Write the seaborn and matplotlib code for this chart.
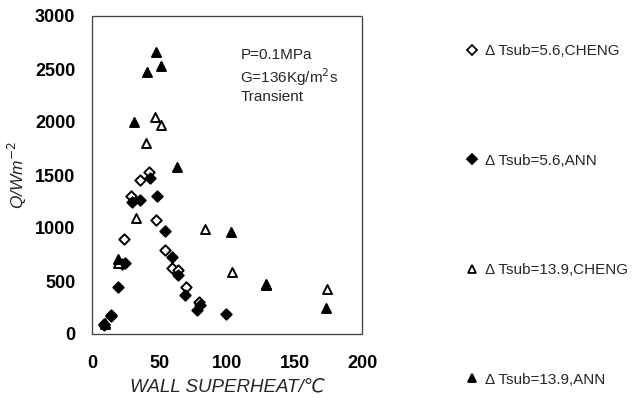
import matplotlib
matplotlib.use("Agg")
import matplotlib.pyplot as plt
import seaborn as sns
import pandas as pd

# Data
cheng56_x = [9, 14, 22, 23.7, 29, 35.3, 42.5, 47.4, 54.3, 59.3, 63.7, 69.6, 79.5]
cheng56_y = [90, 170, 660, 896, 1305, 1450, 1530, 1075, 792, 620, 600, 440, 300]

ann56_x = [9, 14.3, 19.3, 24.7, 29.6, 35.8, 43.2, 48.1, 53.8, 59.3, 63.7, 68.9, 77.5, 80, 99.3]
ann56_y = [85, 180, 440, 670, 1245, 1265, 1470, 1305, 970, 730, 557, 368, 226, 270, 189]

cheng139_x = [9.6, 19.3, 32.6, 40.2, 46.9, 51.3, 83.5, 103.5, 129, 173.8]
cheng139_y = [100, 670, 1095, 1800, 2045, 1970, 990, 587, 470, 420]

ann139_x = [9.6, 19.3, 31, 40.7, 47.4, 51, 63, 103, 129, 173.5]
ann139_y = [95, 707, 2000, 2470, 2660, 2530, 1580, 960, 460, 248]

labels = ["\u0394 Tsub=5.6,CHENG", "\u0394 Tsub=5.6,ANN",
          "\u0394 Tsub=13.9,CHENG", "\u0394 Tsub=13.9,ANN"]
x_ticks = [0, 50, 100, 150, 200]
y_ticks = [0, 500, 1000, 1500, 2000, 2500, 3000]

sns.set_style("white")
plt.rcParams["font.family"] = ["Liberation Sans", "DejaVu Sans"]

fig = plt.figure(figsize=(6.34, 3.98), dpi=100)
W, H = 634, 398
ax = fig.add_axes([92 / W, 1 - 334 / H, (362 - 92) / W, (334 - 16) / H])

series = [
    (cheng56_x, cheng56_y, "D", "white", labels[0], 28),
    (ann56_x, ann56_y, "D", "black", labels[1], 28),
    (cheng139_x, cheng139_y, "^", "white", labels[2], 42),
    (ann139_x, ann139_y, "^", "black", labels[3], 42),
]
handles = []
for xs, ys, m, fc, lab, s in series:
    df = pd.DataFrame({"x": xs, "y": ys})
    sns.scatterplot(data=df, x="x", y="y", ax=ax, marker=m, s=s,
                    facecolor=fc, edgecolor="black", linewidth=1.4,
                    zorder=3, legend=False)
    h = plt.Line2D([], [], linestyle="none", marker=m, markersize=5 if m == "D" else 6,
                   markerfacecolor=fc, markeredgecolor="black", markeredgewidth=1.3)
    handles.append(h)

ax.set_xlim(0, 200)
ax.set_ylim(0, 3000)
ax.set_xticks(x_ticks)
ax.set_yticks(y_ticks)
ax.tick_params(direction="in", length=3, width=0.6, labelsize=13, colors="black")
ax.tick_params(axis="x", pad=15)
ax.tick_params(axis="y", pad=12)
for lab in ax.get_xticklabels() + ax.get_yticklabels():
    lab.set_fontweight("bold")
for sp in ax.spines.values():
    sp.set_linestyle((0, (1, 0.6)))
    sp.set_color("#444444")
    sp.set_linewidth(0.9)

ax.set_xlabel("WALL SUPERHEAT/\u2103", fontsize=13.5, fontstyle="italic", labelpad=5)
ax.set_ylabel("Q/Wm$^{-2}$", fontsize=12.5, fontstyle="italic", labelpad=4)

ax.text(0.55, 0.90, "P=0.1MPa\nG=136Kg/m$^2$s\nTransient", transform=ax.transAxes,
        fontsize=11, va="top", ha="left", linespacing=1.25)

fig.legend(handles, labels, loc="upper left", bbox_to_anchor=(458 / W, 1 - 38 / H),
           frameon=False, fontsize=11, labelspacing=6.25, handlelength=1.0,
           handletextpad=0.4, borderaxespad=0)

fig.savefig("out.png", dpi=100)
